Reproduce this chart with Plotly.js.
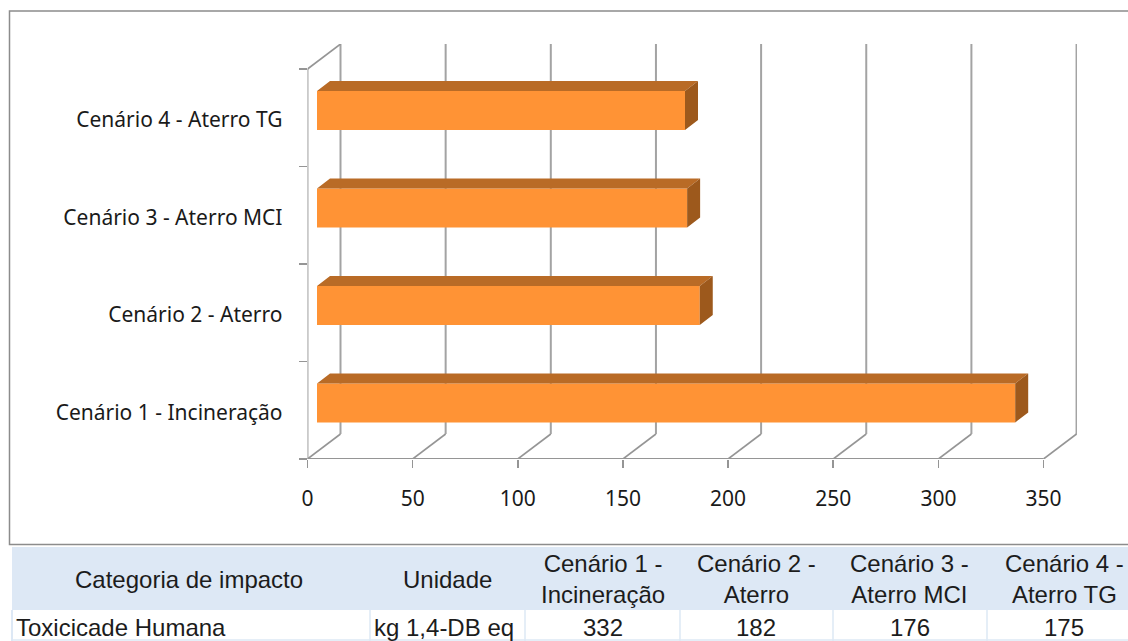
<!DOCTYPE html>
<html>
<head>
<meta charset="utf-8">
<script src="https://cdn.plot.ly/plotly-3.0.1.min.js"></script>
<style>html,body{margin:0;padding:0;background:#fff;overflow:hidden}</style>
</head>
<body>
<div id="chart" style="width:1128px;height:641px"></div>
<script>
// Scenario names and results for the human toxicity impact category
const scenarioLabels = ['Cenário 1 - Incineração', 'Cenário 2 - Aterro', 'Cenário 3 - Aterro MCI', 'Cenário 4 - Aterro TG'];
const scenarioValues = [332, 182, 176, 175];
const xTicks = [0, 50, 100, 150, 200, 250, 300, 350];

// Table contents
const tableCategoryHeader = 'Categoria de impacto';
const tableUnitHeader = 'Unidade';
const tableScenarioHeaders = ['Cenário 1 -<br>Incineração', 'Cenário 2 -<br>Aterro', 'Cenário 3 -<br>Aterro MCI', 'Cenário 4 -<br>Aterro TG'];
const tableCategory = 'Toxicicade Humana';
const tableUnit = 'kg 1,4-DB eq';

const W = 1128, H = 641;
const px = x => x / W;
const py = y => 1 - y / H;

// Scales of the pseudo-3D box
const pxPerUnit = 2.103, pxPerCat = 97.5;
const left = 307.5, floorY = 459, backRight = 1077, backTop = 44;
const wallDx = 33 / pxPerUnit, wallDy = 25 / pxPerCat;      // depth of the box
const barDx = 13 / pxPerUnit, barDy = 10 / pxPerCat;        // depth of each bar
const barBase = 9.5 / pxPerUnit, barCentre = 0.075, barHeight = 0.4;
const yMin = -0.5, yFront = scenarioLabels.length - 0.5;

const gridColor = '#a3a3a3', diagColor = '#959595';
const line = (x0, y0, x1, y1, color, width) => ({
  type: 'line', xref: 'x', yref: 'y', layer: 'below', x0, y0, x1, y1,
  line: {color, width}
});

const wallShapes = [];
xTicks.forEach(t => {
  wallShapes.push(line(t, yMin, t + wallDx, yMin + wallDy, diagColor, 1.6));
  wallShapes.push(line(t + wallDx, yMin + wallDy, t + wallDx, yFront + wallDy, gridColor, 2));
});
wallShapes.push(line(0, yMin, 0, yFront, diagColor, 1.8));
wallShapes.push(line(0, yFront, wallDx, yFront + wallDy, diagColor, 1.6));
wallShapes.push(line(0, yMin, 350, yMin, diagColor, 1.8));

// Chart frame, then the table backgrounds and rules
const rect = (x0, y0, x1, y1, fill, stroke, width) => ({
  type: 'rect', xref: 'paper', yref: 'paper', layer: 'below',
  x0: px(x0), x1: px(x1), y0: py(y0), y1: py(y1),
  fillcolor: fill, line: {color: stroke, width}
});
const columnEdges = [12, 370, 525, 680, 833, 987, 1140];
const tableShapes = [
  rect(9.5, 11, 1140, 544.5, 'rgba(0,0,0,0)', '#8c8c8c', 1.5),
  rect(12, 547, 1128, 610, '#dde8f5', 'rgba(0,0,0,0)', 0),
  rect(12, 610, 1128, 641, '#ffffff', 'rgba(0,0,0,0)', 0),
  {type: 'line', xref: 'paper', yref: 'paper', layer: 'below', x0: px(12), x1: px(1128), y0: py(640), y1: py(640), line: {color: '#dde8f5', width: 1.5}},
  {type: 'line', xref: 'paper', yref: 'paper', layer: 'below', x0: px(12), x1: px(12), y0: py(610), y1: py(641), line: {color: '#dde8f5', width: 2}}
];
columnEdges.slice(1, -1).forEach(x => tableShapes.push({
  type: 'line', xref: 'paper', yref: 'paper', layer: 'below',
  x0: px(x), x1: px(x), y0: py(610), y1: py(641), line: {color: '#dde8f5', width: 1.5}
}));

const cellFont = {family: 'Liberation Sans, Arial, sans-serif', size: 24, color: '#1c1c1c'};
const cellText = (text, x, y, anchor) => ({
  text, xref: 'paper', yref: 'paper', x: px(x), y: py(y),
  xanchor: anchor || 'center', yanchor: 'middle', showarrow: false, font: cellFont, align: 'center'
});
const tableAnnotations = [
  cellText(tableCategoryHeader, 189, 579),
  cellText(tableUnitHeader, 447.5, 579),
  cellText(tableCategory, 14, 627, 'left'),
  cellText(tableUnit, 444, 627)
];
const headerCentres = [602.5, 756, 909.5, 1064];
scenarioValues.forEach((v, i) => {
  tableAnnotations.push(cellText(tableScenarioHeaders[i], headerCentres[i], 579));
  tableAnnotations.push(cellText(String(v), headerCentres[i], 627));
});

// Top and end faces of the bars, derived from the same values as the front faces
const polyX = (fn) => scenarioValues.flatMap((v, i) => fn(v, i).map(p => p[0]).concat([null]));
const polyY = (fn) => scenarioValues.flatMap((v, i) => fn(v, i).map(p => p[1]).concat([null]));
const topFace = (v, i) => {
  const y = i + barCentre + barHeight / 2, a = barBase, b = barBase + v;
  return [[a, y], [b, y], [b + barDx, y + barDy], [a + barDx, y + barDy], [a, y]];
};
const endFace = (v, i) => {
  const y0 = i + barCentre - barHeight / 2, y1 = i + barCentre + barHeight / 2, b = barBase + v;
  return [[b, y0], [b, y1], [b + barDx, y1 + barDy], [b + barDx, y0 + barDy], [b, y0]];
};

const traces = [
  {
    type: 'bar', orientation: 'h',
    x: scenarioValues,
    y: scenarioValues.map((v, i) => i + barCentre),
    base: scenarioValues.map(() => barBase),
    width: barHeight,
    marker: {color: '#ff9335', line: {width: 0}},
    hoverinfo: 'x'
  },
  {
    type: 'scatter', mode: 'lines', fill: 'toself', fillcolor: '#b96b26',
    x: polyX(topFace), y: polyY(topFace), line: {width: 0, color: '#b96b26'}, hoverinfo: 'skip'
  },
  {
    type: 'scatter', mode: 'lines', fill: 'toself', fillcolor: '#9d591c',
    x: polyX(endFace), y: polyY(endFace), line: {width: 0, color: '#9d591c'}, hoverinfo: 'skip'
  }
];

const labelFont = {family: 'Noto Sans, Open Sans, sans-serif', size: 21, color: '#1a1a1a'};
const layout = {
  width: W, height: H,
  margin: {l: 0, r: 0, t: 0, b: 0},
  paper_bgcolor: '#ffffff', plot_bgcolor: 'rgba(0,0,0,0)',
  showlegend: false,
  xaxis: {
    domain: [px(left), px(backRight)],
    range: [0, (backRight - left) / pxPerUnit],
    tickmode: 'array', tickvals: xTicks, ticktext: xTicks.map(String),
    ticks: 'outside', ticklen: 8, tickwidth: 1.6, tickcolor: diagColor,
    ticklabelstandoff: 13,
    showgrid: false, zeroline: false, showline: false,
    tickfont: labelFont
  },
  yaxis: {
    domain: [py(floorY), py(backTop)],
    range: [yMin, yMin + (floorY - backTop) / pxPerCat],
    tickmode: 'array', tickvals: scenarioLabels.map((c, i) => i - 0.02), ticktext: scenarioLabels,
    ticks: '', ticklabelstandoff: 24,
    minor: {
      tickmode: 'array', tickvals: [-0.5, 0.5, 1.5, 2.5, 3.5],
      ticks: 'outside', ticklen: 8, tickwidth: 1.6, tickcolor: diagColor, showgrid: false
    },
    showgrid: false, zeroline: false, showline: false,
    tickfont: labelFont
  },
  shapes: wallShapes.concat(tableShapes),
  annotations: tableAnnotations
};

Plotly.newPlot('chart', traces, layout, {displayModeBar: false, staticPlot: true});
</script>
</body>
</html>
